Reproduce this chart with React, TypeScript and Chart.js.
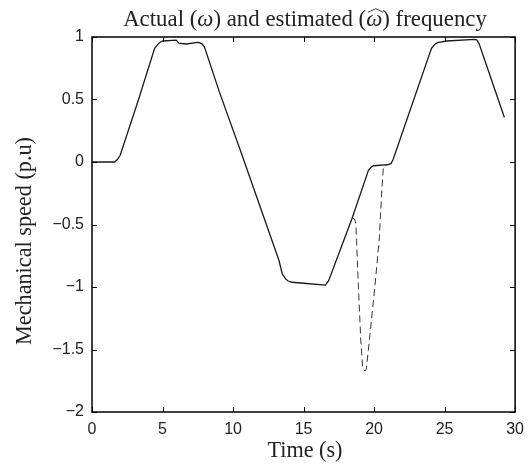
import React, { useEffect, useRef } from "react";
import { Chart, registerables } from "chart.js";

Chart.register(...registerables);

// Actual mechanical speed (omega), time in s
const actualT = [0, 1.6, 1.8, 2.0, 3.3, 4.44, 4.7, 4.85, 5.03, 5.97, 6.16, 6.68, 7.5, 7.62, 7.8, 7.97, 9.03, 10.56, 13.26, 13.49, 13.73, 13.9, 14.2, 15.02, 16.55, 16.78, 18.43, 19.6, 19.8, 19.96, 21.0, 21.2, 21.35, 24.07, 24.3, 24.5, 25.13, 27.13, 27.3, 27.45, 29.24];
const actualW = [0, 0, 0.02, 0.054, 0.5, 0.909, 0.945, 0.96, 0.968, 0.975, 0.95, 0.944, 0.957, 0.955, 0.945, 0.922, 0.561, 0.08, -0.788, -0.895, -0.935, -0.952, -0.962, -0.97, -0.985, -0.949, -0.454, -0.067, -0.04, -0.03, -0.021, -0.013, 0.02, 0.909, 0.94, 0.955, 0.968, 0.981, 0.975, 0.945, 0.356];

// Estimated speed (omega hat) where it departs from the actual one
const estT = [18.48, 18.62, 18.71, 18.76, 18.9, 19.06, 19.2, 19.37, 19.45, 19.6, 19.8, 20.03, 20.36, 20.55, 20.66, 20.8, 21.0];
const estW = [-0.446, -0.457, -0.494, -0.63, -1.03, -1.43, -1.657, -1.67, -1.655, -1.5, -1.28, -1.03, -0.63, -0.227, -0.04, -0.025, -0.021];

const xTicks = [0, 5, 10, 15, 20, 25, 30];
const yTicks = [-2, -1.5, -1, -0.5, 0, 0.5, 1];

const SERIF = '"Liberation Serif", "DejaVu Serif", serif';
const SANS = '"Liberation Sans", Arial, sans-serif';

type Seg = { text: string; italic?: boolean; hat?: boolean };

function drawSegs(ctx: CanvasRenderingContext2D, segs: Seg[], targetW: number, baseSize: number) {
  const font = (s: Seg, size: number) => `${s.italic ? "italic " : ""}${size}px ${SERIF}`;
  let w = 0;
  segs.forEach((s) => {
    ctx.font = font(s, baseSize);
    w += ctx.measureText(s.text).width;
  });
  const size = baseSize * (targetW / w);
  let total = 0;
  segs.forEach((s) => {
    ctx.font = font(s, size);
    total += ctx.measureText(s.text).width;
  });
  let x = -total / 2;
  ctx.textAlign = "left";
  ctx.textBaseline = "alphabetic";
  segs.forEach((s) => {
    ctx.font = font(s, size);
    ctx.fillText(s.text, x, 0);
    const sw = ctx.measureText(s.text).width;
    if (s.hat) {
      ctx.save();
      ctx.strokeStyle = ctx.fillStyle as string;
      ctx.lineWidth = 0.9;
      ctx.beginPath();
      ctx.moveTo(x + sw * 0.12, -size * 0.6);
      ctx.lineTo(x + sw * 0.6, -size * 0.76);
      ctx.lineTo(x + sw * 1.05, -size * 0.6);
      ctx.stroke();
      ctx.restore();
    }
    x += sw;
  });
}

const framePlugin = {
  id: "frame",
  afterDatasetsDraw(chart: any) {
    const { ctx, chartArea: a, scales } = chart;
    const xs = scales.x;
    const ys = scales.y;
    ctx.save();
    ctx.strokeStyle = "#000";
    ctx.lineWidth = 1.5;
    ctx.strokeRect(a.left, a.top, a.right - a.left, a.bottom - a.top);
    const tl = 5;
    ctx.lineWidth = 1;
    ctx.beginPath();
    xTicks.forEach((v) => {
      const px = Math.round(xs.getPixelForValue(v)) + 0.5;
      ctx.moveTo(px, a.bottom);
      ctx.lineTo(px, a.bottom - tl);
      ctx.moveTo(px, a.top);
      ctx.lineTo(px, a.top + tl);
    });
    yTicks.forEach((v) => {
      const py = Math.round(ys.getPixelForValue(v)) + 0.5;
      ctx.moveTo(a.left, py);
      ctx.lineTo(a.left + tl, py);
      ctx.moveTo(a.right, py);
      ctx.lineTo(a.right - tl, py);
    });
    ctx.stroke();

    ctx.fillStyle = "#222";
    // Title
    ctx.save();
    ctx.translate(305, 26);
    drawSegs(ctx, [
      { text: "Actual (" },
      { text: "ω", italic: true },
      { text: ") and estimated (" },
      { text: "ω", italic: true, hat: true },
      { text: ") frequency" },
    ], 364, 17);
    ctx.restore();
    // X label
    ctx.save();
    ctx.translate(305, 457);
    drawSegs(ctx, [{ text: "Time (s)" }], 75, 17);
    ctx.restore();
    // Y label
    ctx.save();
    ctx.translate(31, 241);
    ctx.rotate(-Math.PI / 2);
    drawSegs(ctx, [{ text: "Mechanical speed (p.u)" }], 208, 17);
    ctx.restore();
    ctx.restore();
  },
};

export default function App() {
  const ref = useRef<HTMLCanvasElement | null>(null);
  useEffect(() => {
    document.body.style.margin = "0";
    const canvas = ref.current;
    if (!canvas) return;
    const chart = new Chart(canvas, {
      type: "line",
      data: {
        datasets: [
          {
            label: "actual",
            data: actualT.map((t, i) => ({ x: t, y: actualW[i] })),
            borderColor: "#1a1a1a",
            borderWidth: 1.3,
            pointRadius: 0,
            tension: 0,
            fill: false,
            order: 1,
          },
          {
            label: "estimated",
            data: estT.map((t, i) => ({ x: t, y: estW[i] })),
            borderColor: "#333",
            borderWidth: 1,
            borderDash: [7, 4],
            pointRadius: 0,
            tension: 0,
            fill: false,
            order: 2,
          },
        ],
      },
      options: {
        animation: false,
        responsive: false,
        maintainAspectRatio: false,
        devicePixelRatio: 1,
        layout: { padding: { top: 37, right: 15, left: 0, bottom: 0 } },
        plugins: {
          legend: { display: false },
          title: { display: false },
          tooltip: { enabled: false },
        },
        scales: {
          x: {
            type: "linear",
            min: 0,
            max: 30,
            afterBuildTicks: (s: any) => {
              s.ticks = xTicks.map((v) => ({ value: v }));
            },
            afterFit: (s: any) => {
              s.height = 56;
            },
            grid: { display: false, drawTicks: false },
            border: { display: false },
            ticks: {
              font: { family: SANS, size: 16 },
              color: "#222",
              padding: 8,
              maxRotation: 0,
              autoSkip: false,
              callback: (v: any) => String(v),
            },
          },
          y: {
            type: "linear",
            min: -2,
            max: 1,
            afterBuildTicks: (s: any) => {
              s.ticks = yTicks.map((v) => ({ value: v }));
            },
            afterFit: (s: any) => {
              s.width = 92;
            },
            grid: { display: false, drawTicks: false },
            border: { display: false },
            ticks: {
              font: { family: SANS, size: 16 },
              color: "#222",
              padding: 8,
              autoSkip: false,
              callback: (v: any) => String(v).replace("-", "\u2212"),
            },
          },
        },
      },
      plugins: [framePlugin],
    });
    return () => chart.destroy();
  }, []);
  return <canvas ref={ref} width={532} height={468} style={{ display: "block" }} />;
}
